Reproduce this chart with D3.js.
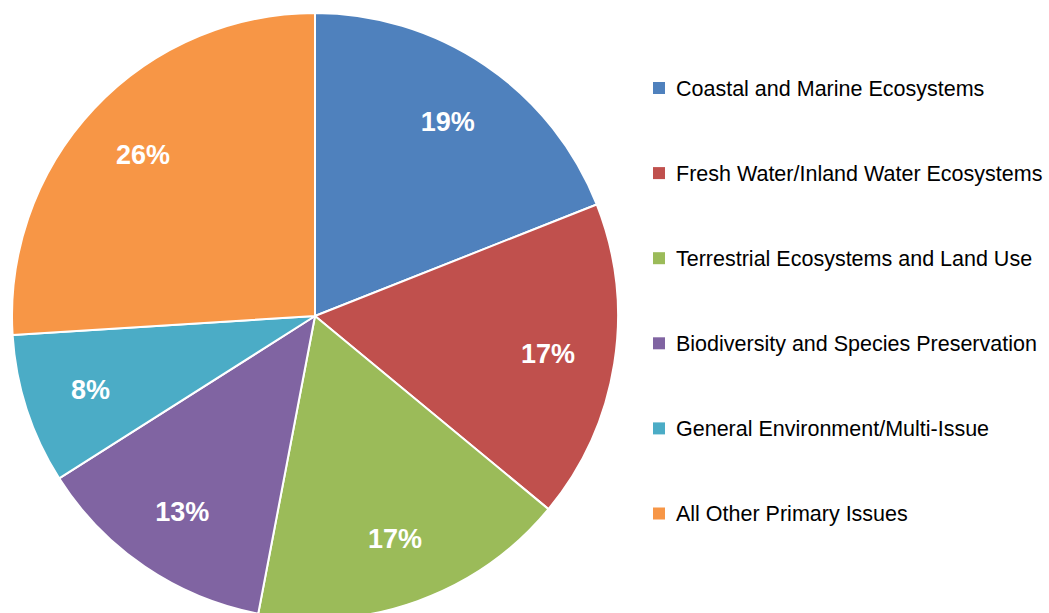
<!DOCTYPE html>
<html>
<head>
<meta charset="utf-8">
<script src="https://cdn.jsdelivr.net/npm/d3@7"></script>
<style>
  html, body { margin: 0; padding: 0; background: #ffffff; }
  svg { display: block; }
</style>
</head>
<body>
<svg id="chart" width="1049" height="613"></svg>
<script>
// Share of projects by primary issue (percent)
const categories = [
  "Coastal and Marine Ecosystems",
  "Fresh Water/Inland Water Ecosystems",
  "Terrestrial Ecosystems and Land Use",
  "Biodiversity and Species Preservation",
  "General Environment/Multi-Issue",
  "All Other Primary Issues"
];
const shares = [19, 17, 17, 13, 8, 26];
const colors = ["#4F81BD", "#C0504D", "#9BBB59", "#8064A2", "#4BACC6", "#F79646"];

const svg = d3.select("#chart");
const cx = 315, cy = 316, radius = 303;

const data = categories.map((c, i) => ({ name: c, value: shares[i], color: colors[i] }));

const pie = d3.pie().sort(null).value(d => d.value);
const arc = d3.arc().innerRadius(0).outerRadius(radius);
const labelArc = d3.arc().innerRadius(236).outerRadius(236);

const g = svg.append("g").attr("transform", `translate(${cx},${cy})`);
const arcs = pie(data);

g.selectAll("path.slice")
  .data(arcs)
  .join("path")
  .attr("class", "slice")
  .attr("d", arc)
  .attr("fill", d => d.data.color)
  .attr("stroke", "#ffffff")
  .attr("stroke-width", 2)
  .attr("stroke-linejoin", "round");

g.selectAll("text.pct")
  .data(arcs)
  .join("text")
  .attr("class", "pct")
  .attr("transform", d => `translate(${labelArc.centroid(d)})`)
  .attr("text-anchor", "middle")
  .attr("dy", "0.36em")
  .attr("fill", "#ffffff")
  .style("font-family", "'Liberation Sans', Arial, Helvetica, sans-serif")
  .style("font-weight", "bold")
  .style("font-size", "27px")
  .text(d => d.data.value + "%");

// Legend
const legendY = d3.scalePoint()
  .domain(categories)
  .range([88, 513.5]);

const legend = svg.append("g");
const rows = legend.selectAll("g.row")
  .data(data)
  .join("g")
  .attr("class", "row")
  .attr("transform", d => `translate(0,${legendY(d.name)})`);

rows.append("rect")
  .attr("x", 653)
  .attr("y", -6)
  .attr("width", 12)
  .attr("height", 12)
  .attr("fill", d => d.color);

rows.append("text")
  .attr("x", 676)
  .attr("y", 0)
  .attr("dy", "0.36em")
  .attr("fill", "#000000")
  .style("font-family", "'Liberation Sans', Arial, Helvetica, sans-serif")
  .style("font-size", "21.5px")
  .text(d => d.name);
</script>
</body>
</html>
